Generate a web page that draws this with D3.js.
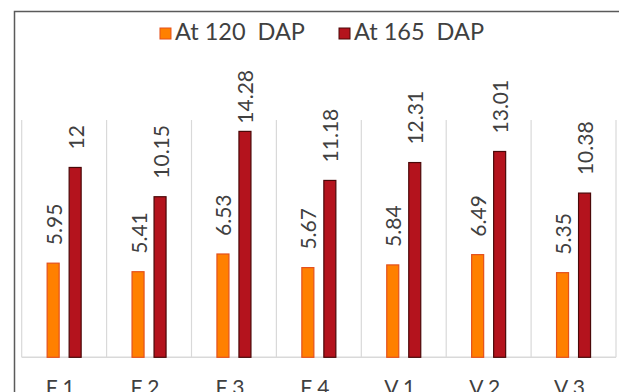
<!DOCTYPE html>
<html>
<head>
<meta charset="utf-8">
<script src="https://cdn.jsdelivr.net/npm/d3@7"></script>
<style>
  html, body { margin: 0; padding: 0; background: #fff; }
  svg { display: block; }
  text { font-family: Lato, "Open Sans", sans-serif; fill: #404040; }
</style>
</head>
<body>
<svg id="chart" width="619" height="392"></svg>
<script>
// Treatments along the category axis
const categories = ["F 1", "F 2", "F 3", "F 4", "V 1", "V 2", "V 3"];
// Series names as shown in the legend
const seriesNames = ["At 120  DAP", "At 165  DAP"];
// Values per treatment for each sampling date
const at120 = [5.95, 5.41, 6.53, 5.67, 5.84, 6.49, 5.35];
const at165 = [12, 10.15, 14.28, 11.18, 12.31, 13.01, 10.38];
const yDomain = [0, 15];

const fills = ["#FF8000", "#B4131D"];
const strokes = ["#E4501C", "#4A0808"];

const svg = d3.select("#chart");

// Plot area
const plotL = 21.7, plotR = 616, plotT = 120, plotB = 357.3;

const x0 = d3.scaleBand().domain(categories).range([plotL, plotR]).padding(0);
const half = 22;
const x1 = d3.scaleBand().domain(d3.range(seriesNames.length))
  .range([x0.bandwidth() / 2 - half, x0.bandwidth() / 2 + half])
  .paddingInner(0.4545).paddingOuter(0.2273);
const y = d3.scaleLinear().domain(yDomain).range([plotB, plotT]);

// Outer chart frame
svg.append("rect")
  .attr("x", 14.5).attr("y", 11.5)
  .attr("width", 700).attr("height", 500)
  .attr("fill", "none").attr("stroke", "#5a5a5a").attr("stroke-width", 1.5);

// Vertical category separators
const seps = categories.map(c => x0(c)).concat([x0(categories[categories.length - 1]) + x0.bandwidth()]);
svg.append("g").selectAll("line").data(seps).join("line")
  .attr("x1", d => d).attr("x2", d => d)
  .attr("y1", plotT).attr("y2", plotB)
  .attr("stroke", "#d9d9d9").attr("stroke-width", 1.2);

// Category axis line
svg.append("line")
  .attr("x1", plotL).attr("x2", plotR)
  .attr("y1", plotB).attr("y2", plotB)
  .attr("stroke", "#d9d9d9").attr("stroke-width", 1.5);

const rows = categories.map((c, i) => ({ cat: c, vals: [at120[i], at165[i]] }));

const groups = svg.append("g").selectAll("g").data(rows).join("g")
  .attr("transform", d => `translate(${x0(d.cat)},0)`);

groups.selectAll("rect")
  .data(d => d.vals.map((v, s) => ({ v, s })))
  .join("rect")
  .attr("x", d => x1(d.s))
  .attr("width", x1.bandwidth())
  .attr("y", d => y(d.v))
  .attr("height", d => y(0) - y(d.v))
  .attr("fill", d => fills[d.s])
  .attr("stroke", d => strokes[d.s])
  .attr("stroke-width", 1.2);

// Rotated value labels above each bar, kept below the legend band
const labelGap = 18, labelTopLimit = 70;
groups.selectAll("text.val")
  .data(d => d.vals.map((v, s) => ({ v, s })))
  .join("text")
  .attr("class", "val")
  .attr("font-size", 21)
  .attr("dominant-baseline", "central")
  .text(d => String(d.v))
  .each(function (d) {
    const len = this.getComputedTextLength();
    let end = y(d.v) - labelGap;
    if (end - len < labelTopLimit) end = labelTopLimit + len;
    const cx = x1(d.s) + x1.bandwidth() / 2;
    d3.select(this)
      .attr("text-anchor", "start")
      .attr("transform", `translate(${cx},${end}) rotate(-90)`);
  });

// Category labels
svg.append("g").selectAll("text").data(categories).join("text")
  .attr("x", d => x0(d) + x0.bandwidth() / 2 - 4)
  .attr("y", 395)
  .attr("text-anchor", "middle")
  .attr("font-size", 21)
  .text(d => d);

// Legend
const legend = svg.append("g");
const sq = 11, gapTxt = 4, gapItem = 34;
let cursor = 0;
seriesNames.forEach((name, i) => {
  const g = legend.append("g");
  g.append("rect").attr("x", 0).attr("y", -sq / 2 - 6).attr("width", sq).attr("height", sq)
    .attr("fill", fills[i]).attr("stroke", strokes[i]).attr("stroke-width", 1);
  const t = g.append("text").attr("x", sq + gapTxt).attr("y", 0)
    .attr("font-size", 23.5).style("white-space", "pre").text(name);
  const w = sq + gapTxt + t.node().getComputedTextLength();
  g.attr("transform", `translate(${cursor},0)`);
  cursor += w + gapItem;
});
const total = cursor - gapItem;
legend.attr("transform", `translate(${322 - total / 2},39.5)`);
</script>
</body>
</html>
